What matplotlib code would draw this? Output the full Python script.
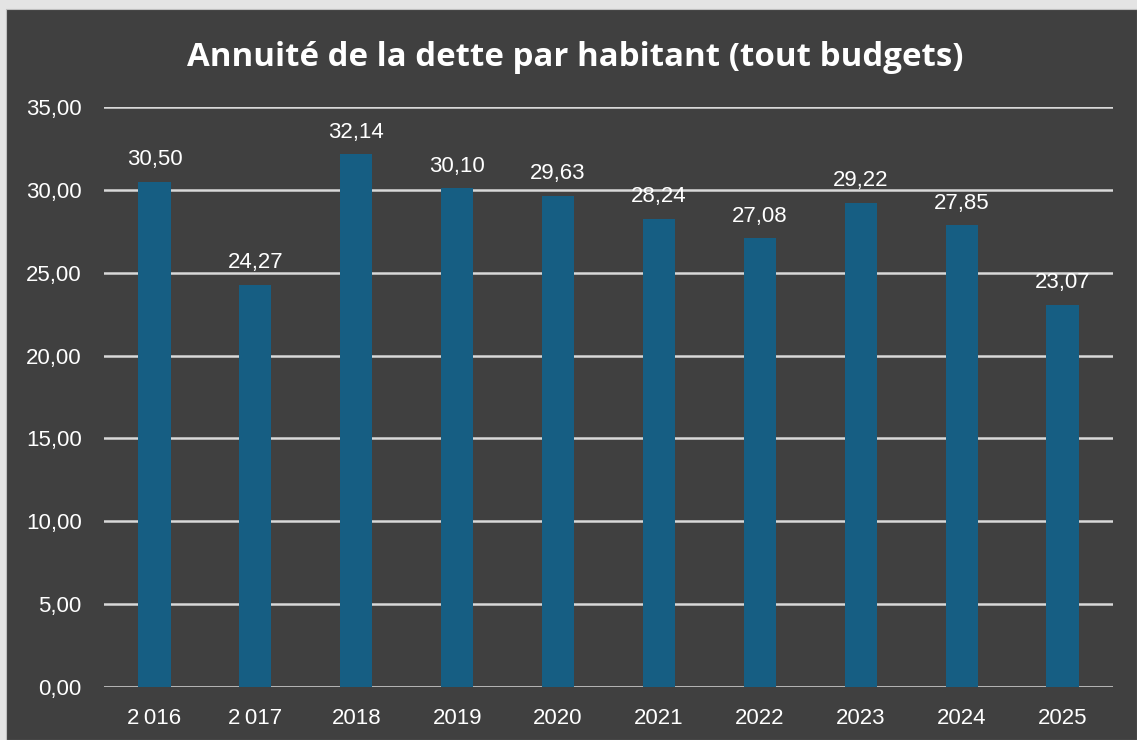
import matplotlib
matplotlib.use("Agg")
import matplotlib.pyplot as plt
from matplotlib.patches import Rectangle

categories = ["2\u2009016", "2\u2009017", "2018", "2019", "2020", "2021", "2022", "2023", "2024", "2025"]
values = [30.50, 24.27, 32.14, 30.10, 29.63, 28.24, 27.08, 29.22, 27.85, 23.07]
yticks = [0, 5, 10, 15, 20, 25, 30, 35]
title = "Annuité de la dette par habitant (tout budgets)"

BG = "#404040"
BAR = "#165E83"
GRID = "#D9D9D9"
TXT = "#FFFFFF"
font = ["Liberation Sans", "DejaVu Sans"]

fig = plt.figure(figsize=(11.37, 7.40), dpi=100)
fig.patch.set_facecolor("#E4E4E4")
bg = Rectangle((6/1137, 0), 1 - 6/1137, 1 - 9/740, transform=fig.transFigure,
               facecolor=BG, edgecolor="#BFBFBF", linewidth=0.8, zorder=-10)
fig.add_artist(bg)

ax = fig.add_axes([104/1137, 1 - 687/740, (1113 - 104)/1137, (687 - 107)/740])
ax.set_zorder(5)
ax.set_facecolor("none")
x = list(range(len(categories)))
bars = ax.bar(x, values, width=0.32, color=BAR, zorder=2)
ax.set_xlim(-0.5, len(categories) - 0.5)
ax.set_ylim(0, 35)
ax.set_yticks(yticks)
ax.set_yticklabels([f"{v:.2f}".replace(".", ",") for v in yticks], family=font, fontsize=16, color=TXT)
ax.set_xticks(x)
ax.set_xticklabels(categories, family=font, fontsize=16, color=TXT)
ax.tick_params(axis="both", length=0)
ax.tick_params(axis="y", pad=16)
ax.tick_params(axis="x", pad=15)
for s in ax.spines.values():
    s.set_visible(False)
ax.yaxis.grid(True, color=GRID, linewidth=1.8, zorder=1)
ax.set_axisbelow(True)

for xi, v in zip(x, values):
    ax.annotate(f"{v:.2f}".replace(".", ","), (xi, v), xytext=(0, 12), textcoords="offset points",
                ha="center", va="baseline", color=TXT, fontsize=16, family=font, zorder=3)

fig.text(575/1137, 1 - 57/740, title, ha="center", va="center", color=TXT, fontsize=23.8,
         fontweight="bold", family=["Open Sans", "DejaVu Sans"], zorder=6)

fig.savefig("out.png", dpi=100, facecolor=fig.get_facecolor())
